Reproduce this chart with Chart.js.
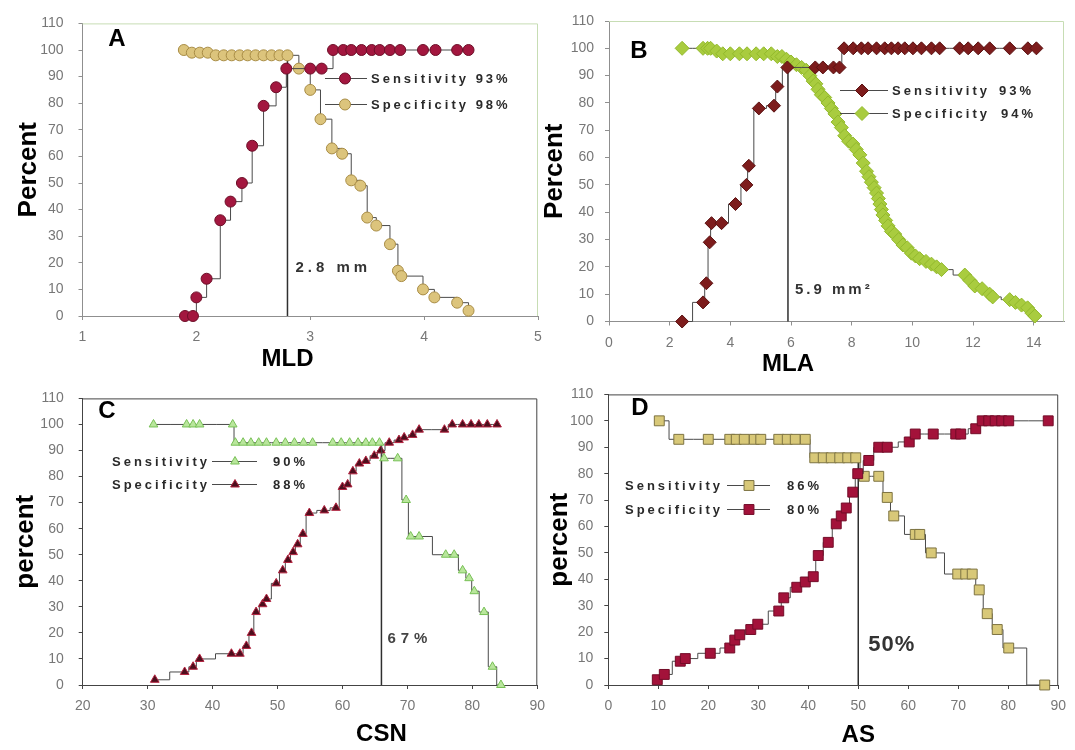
<!DOCTYPE html>
<html>
<head>
<meta charset="utf-8">
<script src="https://cdn.jsdelivr.net/npm/chart.js@4.4.1/dist/chart.umd.min.js"></script>
<style>
  html, body { margin: 0; padding: 0; background: #fff; }
  #wrap { position: relative; width: 1075px; height: 750px; overflow: hidden; }
  canvas { position: absolute; }
</style>
</head>
<body>
<div id="wrap">
  <canvas id="panelA" width="555" height="375" style="left:0;top:0"></canvas>
  <canvas id="panelB" width="540" height="375" style="left:535px;top:0"></canvas>
  <canvas id="panelC" width="555" height="375" style="left:0;top:375px"></canvas>
  <canvas id="panelD" width="540" height="375" style="left:535px;top:375px"></canvas>
</div>
<script>
// y axis ticks shared by all four panels
const pctTicks = [0, 10, 20, 30, 40, 50, 60, 70, 80, 90, 100, 110];

// A - MLD
const aXTicks = [1, 2, 3, 4, 5];
const aSensX = [1.90, 1.97, 2.00, 2.09, 2.21, 2.30, 2.40, 2.49, 2.59, 2.70, 2.79, 3.00, 3.10, 3.20, 3.29, 3.36, 3.45, 3.54, 3.61, 3.70, 3.79, 3.99, 4.10, 4.29, 4.39];
const aSensY = [0, 0, 7, 14, 36, 43, 50, 64, 79, 86, 93, 93, 93, 100, 100, 100, 100, 100, 100, 100, 100, 100, 100, 100, 100];
const aSpecX = [1.89, 1.96, 2.03, 2.10, 2.17, 2.24, 2.31, 2.38, 2.45, 2.52, 2.59, 2.66, 2.73, 2.80, 2.90, 3.00, 3.09, 3.19, 3.28, 3.36, 3.44, 3.50, 3.58, 3.70, 3.77, 3.80, 3.99, 4.09, 4.29, 4.39];
const aSpecY = [100, 99, 99, 99, 98, 98, 98, 98, 98, 98, 98, 98, 98, 98, 93, 85, 74, 63, 61, 51, 49, 37, 34, 27, 17, 15, 10, 7, 5, 2];
const aCut = [2.8, 98];

// B - MLA
const bXTicks = [0, 2, 4, 6, 8, 10, 12, 14];
const bSensX = [2.41, 3.10, 3.21, 3.32, 3.38, 3.71, 4.17, 4.53, 4.61, 4.94, 5.44, 5.55, 5.88, 6.80, 7.05, 7.40, 7.60, 7.75, 8.05, 8.32, 8.54, 8.82, 9.09, 9.31, 9.53, 9.75, 10.02, 10.30, 10.63, 10.90, 11.56, 11.84, 12.17, 12.55, 13.21, 13.81, 14.09];
const bSensY = [0, 7, 14, 29, 36, 36, 43, 50, 57, 78, 79, 86, 93, 93, 93, 93, 93, 100, 100, 100, 100, 100, 100, 100, 100, 100, 100, 100, 100, 100, 100, 100, 100, 100, 100, 100, 100];
const bSpecX = [2.41, 3.10, 3.25, 3.35, 3.55, 3.75, 4.00, 4.30, 4.55, 4.85, 5.10, 5.35, 5.55, 5.70, 5.85, 6.00, 6.18, 6.35, 6.50, 6.62, 6.73, 6.82, 6.89, 7.00, 7.11, 7.22, 7.33, 7.45, 7.55, 7.66, 7.77, 7.90, 8.04, 8.15, 8.27, 8.38, 8.49, 8.57, 8.65, 8.74, 8.82, 8.88, 8.93, 8.98, 9.03, 9.12, 9.20, 9.31, 9.42, 9.55, 9.69, 9.83, 9.97, 10.10, 10.24, 10.45, 10.63, 10.80, 10.96, 11.73, 11.90, 12.06, 12.30, 12.55, 12.65, 13.21, 13.40, 13.60, 13.80, 13.95, 14.04];
const bSpecY = [100, 100, 100, 100, 99, 98, 98, 98, 98, 98, 98, 98, 97, 97, 96, 95, 94, 93, 92, 90, 88, 87, 85, 83, 82, 80, 78, 76, 73, 71, 68, 66, 65, 63, 61, 58, 55, 53, 51, 49, 47, 45, 43, 41, 39, 37, 35, 33, 32, 30, 28, 27, 25, 24, 23, 22, 21, 20, 19, 17, 15, 13, 12, 10, 9, 8, 7, 6, 5, 3, 2];
const bCut = [5.9, 93];

// C - CSN
const cXTicks = [20, 30, 40, 50, 60, 70, 80, 90];
const cSensX = [30.9, 36.0, 37.0, 38.0, 43.1, 43.5, 44.7, 45.9, 47.1, 48.3, 49.8, 51.2, 52.6, 54.0, 55.4, 58.5, 59.8, 61.1, 62.4, 63.6, 64.6, 65.7, 66.4, 68.5, 69.8, 70.5, 71.8, 75.9, 77.2, 78.5, 79.5, 80.3, 81.8, 83.1, 84.4];
const cSensY = [100, 100, 100, 100, 100, 93, 93, 93, 93, 93, 93, 93, 93, 93, 93, 93, 93, 93, 93, 93, 93, 93, 87, 87, 71, 57, 57, 50, 50, 44, 41, 36, 28, 7, 0];
const cSpecX = [31.1, 35.7, 37.0, 38.0, 42.9, 44.2, 45.2, 46.0, 46.7, 47.7, 48.3, 49.8, 50.8, 51.6, 52.4, 53.1, 53.9, 54.9, 57.2, 59.0, 60.0, 60.8, 61.6, 62.6, 63.6, 64.9, 65.9, 67.2, 68.7, 69.5, 70.8, 71.8, 75.7, 76.9, 78.5, 79.8, 81.0, 82.3, 83.8];
const cSpecY = [2, 5, 7, 10, 12, 12, 15, 20, 28, 31, 33, 39, 44, 48, 51, 54, 58, 66, 67, 68, 76, 77, 82, 85, 86, 88, 90, 93, 94, 95, 96, 98, 98, 100, 100, 100, 100, 100, 100];
const cCut = [66, 90];

// D - AS
const dXTicks = [0, 10, 20, 30, 40, 50, 60, 70, 80, 90];
const dSensX = [10.2, 14.1, 20.0, 24.3, 25.6, 27.2, 29.2, 30.5, 34.1, 35.8, 37.4, 39.4, 41.3, 43.0, 44.6, 46.3, 47.9, 49.5, 51.2, 54.1, 55.8, 57.1, 61.4, 62.3, 64.6, 69.9, 71.5, 72.8, 74.2, 75.8, 77.8, 80.1, 87.3];
const dSensY = [100, 93, 93, 93, 93, 93, 93, 93, 93, 93, 93, 93, 86, 86, 86, 86, 86, 86, 79, 79, 71, 64, 57, 57, 50, 42, 42, 42, 36, 27, 21, 14, 0];
const dSpecX = [9.8, 11.2, 14.4, 15.4, 20.4, 24.3, 25.3, 26.3, 28.5, 29.9, 34.1, 35.1, 37.7, 39.4, 41.0, 42.0, 44.0, 45.6, 46.6, 47.6, 48.9, 49.9, 52.1, 54.1, 55.8, 60.2, 61.4, 65.0, 69.5, 70.5, 73.5, 74.8, 76.1, 77.4, 78.7, 80.1, 88.0];
const dSpecY = [2, 4, 9, 10, 12, 14, 17, 19, 21, 23, 28, 33, 37, 39, 41, 49, 54, 61, 64, 67, 73, 80, 85, 90, 90, 92, 95, 95, 95, 95, 97, 100, 100, 100, 100, 100, 100];
const dCut = [50, 85];

const FONT = '"Liberation Sans", Arial, sans-serif';
const LINE = '#4a4a4a';

const pts = (xs, ys) => xs.map((x, i) => ({ x: x, y: ys[i] }));

function mark(ctx, st, x, y) {
    const r = st.r;
    ctx.fillStyle = st.fill;
    ctx.strokeStyle = st.edge;
    ctx.lineWidth = 1;
    ctx.beginPath();
    if (st.shape === 'circle') {
        ctx.arc(x, y, r, 0, Math.PI * 2);
    } else if (st.shape === 'rectRot') {
        ctx.moveTo(x, y - r); ctx.lineTo(x + r, y); ctx.lineTo(x, y + r); ctx.lineTo(x - r, y); ctx.closePath();
    } else if (st.shape === 'triangle') {
        ctx.moveTo(x, y - r); ctx.lineTo(x + r * 0.866, y + r / 2); ctx.lineTo(x - r * 0.866, y + r / 2); ctx.closePath();
    } else {
        const s = r * Math.SQRT1_2;
        ctx.rect(x - s, y - s, 2 * s, 2 * s);
    }
    ctx.fill();
    ctx.stroke();
}

// frame, panel letter, x title, cut-off label and in-plot legend
const decor = {
    id: 'decor',
    beforeDatasetsDraw(chart, args, o) {
        const { ctx, chartArea: a } = chart;
        ctx.save();
        ctx.strokeStyle = o.frame;
        ctx.lineWidth = 1;
        ctx.beginPath();
        ctx.moveTo(a.left, a.top + 0.5);
        ctx.lineTo(a.right - 0.5, a.top + 0.5);
        ctx.lineTo(a.right - 0.5, a.bottom);
        ctx.stroke();
        ctx.restore();
    },
    afterDatasetsDraw(chart, args, o) {
        const ctx = chart.ctx;
        const sx = chart.scales.x, sy = chart.scales.y;
        const cutPx = sx.getPixelForValue(o.cut);
        ctx.save();
        ctx.fillStyle = '#000';
        ctx.textBaseline = 'middle';
        ctx.textAlign = 'center';
        ctx.font = 'bold 24px ' + FONT;
        ctx.fillText(o.letter, o.letterAt[0], o.letterAt[1]);
        ctx.fillText(o.xTitle, cutPx, o.xTitleY);

        ctx.textAlign = 'left';
        ctx.fillStyle = o.cutColor;
        ctx.font = o.cutFont;
        ctx.letterSpacing = o.cutSpacing;
        ctx.fillText(o.cutText, cutPx + o.cutGap, sy.getPixelForValue(o.cutY));

        ctx.font = 'bold 13px ' + FONT;
        ctx.letterSpacing = '3px';
        o.legend.forEach(item => {
            ctx.strokeStyle = LINE;
            ctx.lineWidth = 1;
            ctx.beginPath();
            ctx.moveTo(item.line[0], item.y + 0.5);
            ctx.lineTo(item.line[1], item.y + 0.5);
            ctx.stroke();
            mark(ctx, item.style, item.mark, item.y + 0.5);
            ctx.fillStyle = '#2a2a2a';
            item.texts.forEach(t => ctx.fillText(t[0], t[1], item.y + 1));
        });
        ctx.restore();
    }
};

function serie(xs, ys, st, stepped) {
    return {
        data: pts(xs, ys),
        stepped: stepped,
        borderColor: LINE,
        borderWidth: 1,
        fill: false,
        pointStyle: st.shape,
        pointRadius: st.r,
        pointBackgroundColor: st.fill,
        pointBorderColor: st.edge,
        pointBorderWidth: 1,
        clip: false
    };
}

function cutLine(cut) {
    return {
        data: [{ x: cut[0], y: 0 }, { x: cut[0], y: cut[1] }],
        borderColor: '#2f2f2f',
        borderWidth: 1.5,
        pointRadius: 0,
        fill: false,
        clip: false
    };
}

function construirPainel(id, p) {
    new Chart(document.getElementById(id), {
        type: 'line',
        data: { datasets: p.datasets },
        plugins: [decor],
        options: {
            responsive: false,
            animation: false,
            devicePixelRatio: 1,
            layout: { padding: { left: 0, top: p.padTop, right: p.padRight, bottom: 0 } },
            plugins: {
                legend: { display: false },
                tooltip: { enabled: false },
                decor: p.decor
            },
            scales: {
                x: {
                    type: 'linear',
                    min: p.xTicks[0],
                    max: p.xMax,
                    afterBuildTicks: s => { s.ticks = p.xTicks.map(v => ({ value: v })); },
                    afterFit: s => { s.height = p.xHeight; },
                    ticks: { color: '#777', font: { size: 14, family: FONT }, padding: 9, autoSkip: false, maxRotation: 0 },
                    grid: { drawOnChartArea: false, tickLength: 4, color: p.axis },
                    border: { color: p.axis, width: 1 }
                },
                y: {
                    min: 0,
                    max: 110,
                    afterBuildTicks: s => { s.ticks = pctTicks.map(v => ({ value: v })); },
                    afterFit: s => { s.width = p.yWidth; },
                    ticks: { color: '#777', font: { size: 14, family: FONT }, padding: p.yPad, autoSkip: false },
                    grid: { drawOnChartArea: false, tickLength: 4, color: p.axis },
                    border: { color: p.axis, width: 1 },
                    title: {
                        display: true,
                        text: p.yTitle,
                        color: '#000',
                        font: { size: 26, weight: 'bold', family: FONT },
                        padding: { top: p.yTitlePad, bottom: 0 }
                    }
                }
            }
        }
    });
}

window.onload = function () {

    const stA1 = { shape: 'circle', r: 5.5, fill: '#a3173f', edge: '#6d0f28' };
    const stA2 = { shape: 'circle', r: 5.5, fill: '#dcc47c', edge: '#a88c45' };
    const stB1 = { shape: 'rectRot', r: 6.5, fill: '#7d1c1c', edge: '#5a1212' };
    const stB2 = { shape: 'rectRot', r: 7, fill: '#a9cc3f', edge: '#92b92c' };
    const stC1 = { shape: 'triangle', r: 5, fill: '#b9e69c', edge: '#78c056' };
    const stC2 = { shape: 'triangle', r: 5, fill: '#4d0e1d', edge: '#b3233f' };
    const stD1 = { shape: 'rect', r: 7, fill: '#d8c878', edge: '#7d7342' };
    const stD2 = { shape: 'rect', r: 7, fill: '#a3123a', edge: '#730c28' };

    construirPainel('panelA', {
        xTicks: aXTicks, xMax: 5, padTop: 18, padRight: 17, xHeight: 59, yWidth: 82.5, yPad: 15,
        yTitle: 'Percent', yTitlePad: 13, axis: '#8f8f8f',
        datasets: [serie(aSensX, aSensY, stA1, 'before'), serie(aSpecX, aSpecY, stA2, 'before'), cutLine(aCut)],
        decor: {
            frame: '#c7ddb4', letter: 'A', letterAt: [117, 39], xTitle: 'MLD', xTitleY: 359,
            cut: aCut[0], cutText: '2.8 mm', cutGap: 8, cutY: 18, cutFont: 'bold 15px ' + FONT, cutSpacing: '4px', cutColor: '#333',
            legend: [
                { y: 78, line: [325, 367], mark: 345, style: stA1, texts: [['Sensitivity 93%', 371]] },
                { y: 104, line: [325, 367], mark: 345, style: stA2, texts: [['Specificity 98%', 371]] }
            ]
        }
    });

    construirPainel('panelB', {
        xTicks: bXTicks, xMax: 15, padTop: 21, padRight: 11, xHeight: 53.5, yWidth: 74, yPad: 11,
        yTitle: 'Percent', yTitlePad: 4, axis: '#8f8f8f',
        datasets: [serie(bSensX, bSensY, stB1, 'middle'), serie(bSpecX, bSpecY, stB2, 'middle'), cutLine(bCut)],
        decor: {
            frame: '#c7ddb4', letter: 'B', letterAt: [104, 51], xTitle: 'MLA', xTitleY: 364,
            cut: bCut[0], cutText: '5.9 mm\u00b2', cutGap: 7, cutY: 11.5, cutFont: 'bold 15px ' + FONT, cutSpacing: '3px', cutColor: '#333',
            legend: [
                { y: 90, line: [305, 353], mark: 327, style: stB1, texts: [['Sensitivity', 357], ['93%', 464]] },
                { y: 113, line: [305, 353], mark: 327, style: stB2, texts: [['Specificity', 357], ['94%', 466]] }
            ]
        }
    });

    construirPainel('panelC', {
        xTicks: cXTicks, xMax: 90, padTop: 13, padRight: 17.7, xHeight: 65, yWidth: 82.7, yPad: 15,
        yTitle: 'percent', yTitlePad: 10, axis: '#444444',
        datasets: [serie(cSensX, cSensY, stC1, 'middle'), serie(cSpecX, cSpecY, stC2, 'middle'), cutLine(cCut)],
        decor: {
            frame: '#444444', letter: 'C', letterAt: [107, 36], xTitle: 'CSN', xTitleY: 359,
            cut: cCut[0], cutText: '67%', cutGap: 6, cutY: 17.8, cutFont: 'bold 15px ' + FONT, cutSpacing: '5px', cutColor: '#444',
            legend: [
                { y: 86, line: [212, 257], mark: 235, style: stC1, texts: [['Sensitivity', 112], ['90%', 273]] },
                { y: 109, line: [212, 257], mark: 235, style: stC2, texts: [['Specificity', 112], ['88%', 273]] }
            ]
        }
    });

    construirPainel('panelD', {
        xTicks: dXTicks, xMax: 90, padTop: 13, padRight: 9.5, xHeight: 65, yWidth: 73.3, yPad: 11,
        yTitle: 'percent', yTitlePad: 9, axis: '#444444',
        datasets: [serie(dSpecX, dSpecY, stD2, 'middle'), serie(dSensX, dSensY, stD1, 'middle'), cutLine(dCut)],
        decor: {
            frame: '#444444', letter: 'D', letterAt: [105, 33], xTitle: 'AS', xTitleY: 360,
            cut: dCut[0], cutText: '50%', cutGap: 10, cutY: 15, cutFont: 'bold 22px ' + FONT, cutSpacing: '1px', cutColor: '#333',
            legend: [
                { y: 110, line: [192, 235], mark: 214, style: stD1, texts: [['Sensitivity', 90], ['86%', 252]] },
                { y: 134, line: [192, 235], mark: 214, style: stD2, texts: [['Specificity', 90], ['80%', 252]] }
            ]
        }
    });
}
</script>
</body>
</html>
